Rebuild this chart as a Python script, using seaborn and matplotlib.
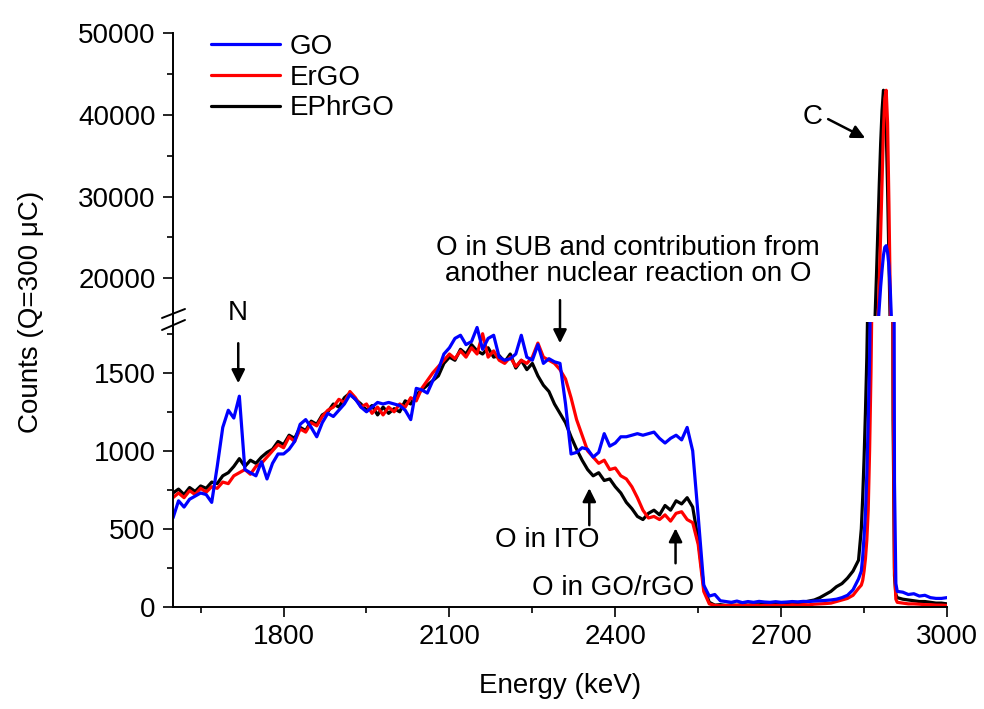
import numpy as np
import pandas as pd
import matplotlib
matplotlib.use("Agg")
import matplotlib.pyplot as plt
from matplotlib.lines import Line2D
from matplotlib.ticker import MultipleLocator
import seaborn as sns

# ---------------- data ----------------
# energy sampling grid (keV): 10 keV steps, finer around the C peak
energy = np.concatenate([np.arange(1600, 2841, 10),
                         np.arange(2845, 2910.1, 2.5),
                         np.arange(2920, 3001, 10)])

go_counts = [
    570, 680, 640, 690, 710, 730, 720, 670, 900, 1150,
    1260, 1210, 1350, 880, 860, 840, 930, 820, 920, 980,
    980, 1010, 1060, 1170, 1200, 1150, 1090, 1180, 1240, 1220,
    1260, 1300, 1360, 1330, 1280, 1250, 1280, 1310, 1300, 1310,
    1300, 1290, 1260, 1200, 1400, 1390, 1370, 1450, 1520, 1620,
    1660, 1720, 1740, 1680, 1700, 1790, 1650, 1720, 1740, 1600,
    1580, 1590, 1620, 1740, 1600, 1580, 1680, 1560, 1590, 1570,
    1560, 1300, 980, 990, 1020, 1010, 960, 990, 1110, 1030,
    1050, 1090, 1090, 1100, 1110, 1100, 1110, 1120, 1080, 1050,
    1080, 1100, 1070, 1150, 1000, 580, 140, 70, 80, 40,
    35, 30, 38, 28, 35, 30, 36, 32, 30, 34,
    30, 32, 35, 33, 36, 35, 38, 40, 42, 45,
    50, 60, 75, 110, 180,
    230, 320, 450, 600, 850, 1200, 1600, 2300, 3500, 5500,
    8000, 11000, 14000, 16500, 19000, 21000, 22800, 23800, 24000, 23200,
    21500, 18500, 14000, 5000, 800, 150, 100,
    95, 80, 85, 70, 75, 60, 55, 55, 60,
]

ergo_counts = [
    700, 730, 700, 745, 720, 760, 735, 770, 760, 800,
    790, 840, 860, 880, 850, 900, 920, 960, 1000, 1040,
    1020, 1090, 1060, 1140, 1120, 1180, 1160, 1220, 1260, 1280,
    1330, 1310, 1380, 1340, 1280, 1300, 1240, 1280, 1230, 1280,
    1250, 1300, 1280, 1340, 1320, 1400, 1450, 1500, 1540, 1580,
    1620, 1590, 1640, 1600, 1660, 1620, 1750, 1600, 1640, 1580,
    1560, 1600, 1540, 1580, 1560, 1600, 1690, 1600, 1580, 1560,
    1520, 1460, 1340, 1200, 1100, 1000, 960, 920, 940, 880,
    890, 840, 820, 770, 700, 620, 570, 580, 560, 590,
    550, 600, 610, 560, 540, 400, 100, 20, 10, 8,
    10, 8, 12, 9, 10, 12, 8, 10, 12, 10,
    12, 10, 14, 12, 15, 14, 18, 20, 22, 25,
    35, 45, 55, 75, 120,
    140, 170, 230, 310, 430, 620, 1000, 1500, 2200, 4000,
    7000, 10500, 14500, 19500, 25500, 32000, 38000, 42000, 43000, 39000,
    29000, 17000, 6500, 1500, 250, 50, 30,
    25, 20, 20, 18, 15, 15, 12, 12, 10,
]

ephrgo_counts = [
    730, 755, 720, 765, 740, 775, 760, 800, 790, 840,
    860, 900, 950, 900, 940, 920, 960, 990, 1010, 1060,
    1040, 1100, 1080, 1150, 1130, 1190, 1170, 1230, 1250, 1300,
    1280, 1340, 1370, 1330, 1300, 1260, 1290, 1230, 1280, 1240,
    1270, 1250, 1320, 1300, 1360, 1390, 1420, 1450, 1480, 1560,
    1600, 1580, 1650, 1620, 1680, 1640, 1620, 1660, 1600, 1610,
    1570, 1620, 1530, 1580, 1520, 1560, 1480, 1420, 1380, 1300,
    1240, 1180, 1090, 1010, 940, 880, 840, 860, 810, 820,
    770, 730, 670, 630, 580, 560, 600, 620, 590, 650,
    620, 680, 660, 700, 640, 430, 130, 30, 12, 15,
    10, 14, 10, 16, 12, 15, 14, 18, 15, 17,
    18, 20, 25, 24, 30, 38, 45, 60, 80, 100,
    130, 150, 185, 230, 300,
    500, 700, 950, 1250, 1600, 2100, 3200, 5000, 7500, 11000,
    15500, 20500, 26000, 31500, 36500, 40500, 43000, 42500, 38500, 31000,
    22000, 13500, 5000, 1200, 200, 80, 60,
    50, 45, 40, 35, 35, 30, 25, 25, 20,
]

series_names = ["GO", "ErGO", "EPhrGO"]
series_colors = {"GO": "#0000FF", "ErGO": "#FF0000", "EPhrGO": "#000000"}

x_ticks = [1800, 2100, 2400, 2700, 3000]
y_ticks_low = [0, 500, 1000, 1500]
y_ticks_high = [20000, 30000, 40000, 50000]

assert len(go_counts) == len(energy) == len(ergo_counts) == len(ephrgo_counts)

df = pd.concat([
    pd.DataFrame({"Energy": energy, "Counts": go_counts, "Sample": "GO"}),
    pd.DataFrame({"Energy": energy, "Counts": ergo_counts, "Sample": "ErGO"}),
    pd.DataFrame({"Energy": energy, "Counts": ephrgo_counts, "Sample": "EPhrGO"}),
])

# ---------------- style ----------------
sns.set_style("ticks")
plt.rcParams["font.family"] = ["Liberation Sans", "DejaVu Sans"]
plt.rcParams["axes.linewidth"] = 1.4
plt.rcParams["text.color"] = "black"
plt.rcParams["axes.labelcolor"] = "black"
plt.rcParams["xtick.color"] = "black"
plt.rcParams["ytick.color"] = "black"
plt.rcParams["axes.edgecolor"] = "black"
FS = 20

W, H = 984, 709
fig = plt.figure(figsize=(W / 100, H / 100), dpi=100)

def fx(px):
    return px / W

def fy(py):
    return 1 - py / H

left, right = 173, 947
ax_hi = fig.add_axes([fx(left), fy(316), fx(right - left), fy(33) - fy(316)])
ax_lo = fig.add_axes([fx(left), fy(607), fx(right - left), fy(322) - fy(607)])

draw_order = ["EPhrGO", "ErGO", "GO"]
for ax in (ax_hi, ax_lo):
    sns.lineplot(data=df, x="Energy", y="Counts", hue="Sample",
                 hue_order=draw_order, palette=series_colors,
                 estimator=None, linewidth=2.3, ax=ax,
                 legend=(ax is ax_hi))
    ax.set_xlim(1600, 3000)
    ax.set_xlabel("")
    ax.set_ylabel("")
    ax.spines["top"].set_visible(False)
    ax.spines["right"].set_visible(False)
    ax.tick_params(axis="both", which="major", direction="out", length=7.5,
                   width=1.2, labelsize=FS, pad=5, colors="black")
    ax.tick_params(axis="both", which="minor", direction="out", length=4,
                   width=1.2, colors="black")

ax_lo.set_ylim(0, 1825)
ax_lo.set_yticks(y_ticks_low)
ax_lo.yaxis.set_minor_locator(MultipleLocator(250))
ax_lo.set_xticks(x_ticks)
ax_lo.xaxis.set_minor_locator(MultipleLocator(150))

ax_hi.set_ylim(15400, 50000)
ax_hi.set_yticks(y_ticks_high)
ax_hi.yaxis.set_minor_locator(MultipleLocator(5000))
ax_hi.spines["bottom"].set_visible(False)
ax_hi.tick_params(axis="x", which="both", bottom=False, labelbottom=False)

# legend (GO, ErGO, EPhrGO order)
handles, labels = ax_hi.get_legend_handles_labels()
hmap = dict(zip(labels, handles))
leg = ax_hi.legend([hmap[n] for n in series_names], series_names,
                   loc="upper left", bbox_to_anchor=(fx(211), fy(34)),
                   bbox_transform=fig.transFigure, frameon=False, fontsize=FS,
                   handlelength=2.5, handletextpad=0.32, labelspacing=0.17,
                   borderpad=0, borderaxespad=0)
for t in leg.get_texts():
    t.set_color("black")

# axis labels
fig.text(fx(560), fy(686), "Energy (keV)", ha="center", va="center",
         fontsize=FS, color="black")
fig.text(fx(31), fy(312), "Counts (Q=300 \u03bcC)", ha="center", va="center",
         rotation=90, fontsize=FS, color="black")

# axis break: join spine and draw the two slashes
fig.add_artist(Line2D([fx(left), fx(left)], [fy(322), fy(316)],
                      transform=fig.transFigure, color="black", lw=1.4))
for y0, y1 in ((318, 309), (330, 320)):
    fig.add_artist(Line2D([fx(162), fx(185)], [fy(y0), fy(y1)],
                          transform=fig.transFigure, color="black", lw=1.4))

# annotations
arrow = dict(arrowstyle="-|>", color="black", lw=1.8, mutation_scale=20,
             shrinkA=0, shrinkB=0)
ax_lo.annotate("", xy=(1718, 1433), xytext=(1718, 1689),
               arrowprops=arrow, annotation_clip=False)
ax_lo.annotate("", xy=(2300, 1689), xytext=(2300, 1965),
               arrowprops=arrow, annotation_clip=False)
ax_lo.annotate("", xy=(2353, 761), xytext=(2353, 524),
               arrowprops=arrow, annotation_clip=False)
ax_lo.annotate("", xy=(2509, 504), xytext=(2509, 280),
               arrowprops=arrow, annotation_clip=False)
ax_hi.annotate("", xy=(2852, 37150), xytext=(2785, 39470),
               arrowprops=arrow, annotation_clip=False)

txt = dict(ha="center", va="center", fontsize=FS, color="black")
fig.text(fx(238), fy(313), "N", **txt)
fig.text(fx(628), fy(261), "O in SUB and contribution from\nanother nuclear reaction on O",
         linespacing=1.0, **txt)
fig.text(fx(547), fy(540), "O in ITO", **txt)
fig.text(fx(613), fy(588), "O in GO/rGO", **txt)
fig.text(fx(813), fy(117), "C", **txt)

fig.savefig("out.png", dpi=100, facecolor="white")
